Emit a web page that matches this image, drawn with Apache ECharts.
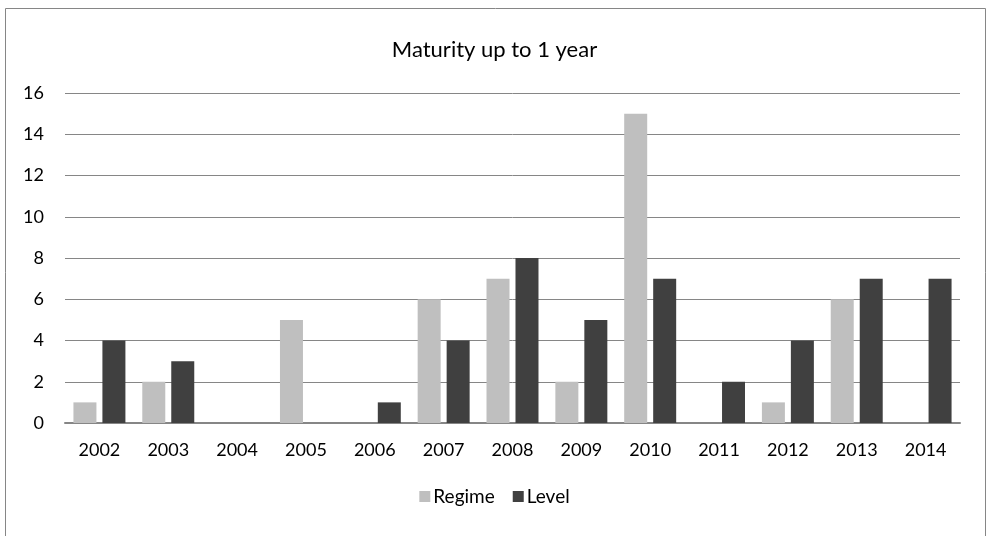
<!DOCTYPE html>
<html>
<head>
<meta charset="utf-8">
<script src="https://cdn.jsdelivr.net/npm/echarts@6/dist/echarts.min.js"></script>
<style>
  html, body { margin: 0; padding: 0; background: #fff; }
  #chart { width: 989px; height: 536px; }
</style>
</head>
<body>
<div id="chart"></div>
<script>
// Yearly counts for the two series
const years = ['2002','2003','2004','2005','2006','2007','2008','2009','2010','2011','2012','2013','2014'];
const regime = [1, 2, 0, 5, 0, 6, 7, 2, 15, 0, 1, 6, 0];
const level  = [4, 3, 0, 0, 1, 4, 8, 5, 7, 2, 4, 7, 7];

const font = 'Lato, "Open Sans", sans-serif';
const chart = echarts.init(document.getElementById('chart'), null, { renderer: 'canvas' });

chart.setOption({
  backgroundColor: '#fff',
  animation: false,
  graphic: [{
    type: 'rect',
    shape: { x: 5.5, y: 8.5, width: 980, height: 540 },
    style: { fill: 'none', stroke: '#868686', lineWidth: 1 },
    silent: true
  }],
  title: {
    text: 'Maturity up to 1 year',
    left: 'center',
    top: 34,
    textStyle: { fontFamily: font, fontSize: 22, fontWeight: 'normal', color: '#000' }
  },
  legend: {
    data: ['Regime', 'Level'],
    bottom: 25,
    left: 'center',
    itemWidth: 11,
    itemHeight: 11,
    itemGap: 18,
    icon: 'rect',
    textStyle: { fontFamily: font, fontSize: 19, color: '#000', padding: [0, 0, 0, -2] }
  },
  grid: { left: 65, right: 29, top: 93, bottom: 113, containLabel: false },
  xAxis: {
    type: 'category',
    data: years,
    axisLine: { lineStyle: { color: '#868686', width: 2 } },
    axisTick: { show: false },
    axisLabel: { fontFamily: font, fontSize: 18, color: '#000', margin: 18 }
  },
  yAxis: {
    type: 'value',
    min: 0, max: 16, interval: 2,
    axisLine: { show: false },
    axisTick: { show: false },
    axisLabel: { fontFamily: font, fontSize: 18, color: '#000', margin: 21 },
    splitLine: { lineStyle: { color: '#868686', width: 1 } }
  },
  series: [
    { name: 'Regime', type: 'bar', data: regime, barWidth: 23, barGap: '26%',
      itemStyle: { color: '#bfbfbf' } },
    { name: 'Level', type: 'bar', data: level, barWidth: 23, barGap: '26%',
      itemStyle: { color: '#404040' } }
  ]
});
</script>
</body>
</html>
